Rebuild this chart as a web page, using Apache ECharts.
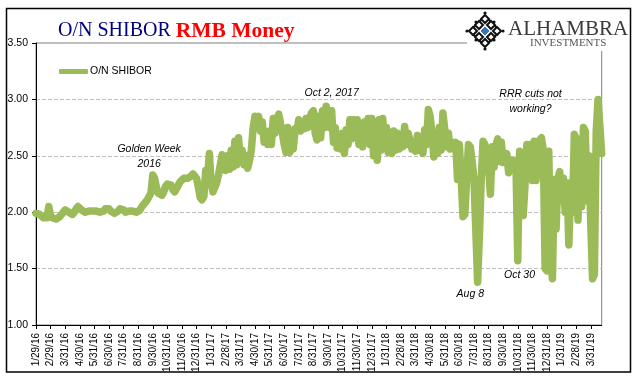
<!DOCTYPE html>
<html>
<head>
<meta charset="utf-8">
<style>
  html, body { margin: 0; padding: 0; background: #fff; }
  #chart { width: 641px; height: 381px; }
</style>
<script src="https://cdn.jsdelivr.net/npm/echarts@6/dist/echarts.min.js"></script>
</head>
<body>
<div id="chart"></div>
<script>
const tickLabels = [
  '1/29/16', '2/29/16', '3/31/16', '4/30/16', '5/31/16', '6/30/16', '7/31/16', '8/31/16', '9/30/16', '10/31/16',
  '11/30/16', '12/31/16', '1/31/17', '2/28/17', '3/31/17', '4/30/17', '5/31/17', '6/30/17', '7/31/17', '8/31/17',
  '9/30/17', '10/31/17', '11/30/17', '12/31/17', '1/31/18', '2/28/18', '3/31/18', '4/30/18', '5/31/18', '6/30/18',
  '7/31/18', '8/31/18', '9/30/18', '10/31/18', '11/30/18', '12/31/18', '1/31/19', '2/28/19', '3/31/19'
];
const pointsPerTick = 8;

// eight readings for each tick interval
const shibor = [
  1.99, 1.99, 1.98, 1.97, 1.95, 1.94, 1.95, 2.05,
  1.97, 1.95, 1.94, 1.94, 1.95, 1.96, 1.97, 2.00,
  2.02, 2.02, 2.00, 1.99, 1.98, 2.00, 2.03, 2.05,
  2.04, 2.02, 2.01, 2.00, 2.00, 2.01, 2.01, 2.01,
  2.00, 2.01, 2.01, 2.00, 2.00, 2.01, 2.03, 2.04,
  2.03, 2.01, 2.00, 1.99, 1.99, 2.01, 2.03, 2.04,
  2.02, 2.00, 2.00, 2.01, 2.02, 2.01, 2.00, 2.00,
  2.00, 2.02, 2.05, 2.07, 2.09, 2.11, 2.14, 2.17,
  2.33, 2.30, 2.22, 2.17, 2.16, 2.15, 2.18, 2.23,
  2.25, 2.25, 2.24, 2.20, 2.18, 2.19, 2.24, 2.27,
  2.28, 2.30, 2.31, 2.30, 2.31, 2.32, 2.34, 2.34,
  2.30, 2.22, 2.13, 2.11, 2.14, 2.37, 2.30, 2.52,
  2.25, 2.18, 2.22, 2.26, 2.33, 2.42, 2.51, 2.48,
  2.37, 2.50, 2.38, 2.55, 2.40, 2.63, 2.42, 2.66,
  2.45, 2.55, 2.42, 2.50, 2.39, 2.46, 2.55, 2.75,
  2.85, 2.78, 2.85, 2.72, 2.80, 2.62, 2.70, 2.60,
  2.72, 2.60, 2.83, 2.70, 2.82, 2.87, 2.88, 2.70,
  2.60, 2.53, 2.75, 2.53, 2.70, 2.56, 2.74, 2.72,
  2.82, 2.72, 2.80, 2.74, 2.83, 2.75, 2.84, 2.88,
  2.90, 2.70, 2.64, 2.85, 2.66, 2.90, 2.75, 2.94,
  2.94, 2.75, 2.90, 2.62, 2.75, 2.57, 2.68, 2.56,
  2.70, 2.52, 2.73, 2.60, 2.82, 2.65, 2.82, 2.68,
  2.82, 2.60, 2.75, 2.58, 2.80, 2.62, 2.83, 2.60,
  2.83, 2.50, 2.70, 2.46, 2.82, 2.55, 2.83, 2.60,
  2.75, 2.53, 2.60, 2.52, 2.72, 2.55, 2.70, 2.56,
  2.68, 2.58, 2.76, 2.60, 2.70, 2.63, 2.56, 2.62,
  2.54, 2.68, 2.55, 2.60, 2.52, 2.73, 2.60, 2.91,
  2.85, 2.70, 2.49, 2.65, 2.52, 2.75, 2.55, 2.88,
  2.88, 2.58, 2.70, 2.56, 2.62, 2.56, 2.62, 2.29,
  2.60, 2.30, 1.96, 1.98, 2.30, 2.60, 2.58, 2.45,
  2.30, 1.85, 1.38, 1.80, 2.30, 2.63, 2.60, 2.45,
  2.40, 2.16, 2.58, 2.40, 2.59, 2.65, 2.45, 2.62,
  2.44, 2.46, 2.52, 2.35, 2.46, 2.40, 2.46, 2.44,
  1.57, 2.54, 2.30, 1.97, 2.25, 2.60, 2.30, 2.60,
  2.28, 2.63, 2.28, 2.60, 2.64, 2.66, 2.55, 1.50,
  1.48, 2.54, 1.60, 1.41, 2.29, 1.85, 2.30, 2.36,
  2.10, 2.30, 2.00, 2.26, 1.71, 2.26, 2.00, 2.69,
  2.65, 1.93, 2.65, 2.05, 2.75, 2.72, 2.10, 2.50,
  1.90, 1.41, 1.45, 2.72, 3.00, 3.01, 2.52
];

const categories = shibor.map((v, i) => (i % pointsPerTick === 0 ? tickLabels[i / pointsPerTick] : ''));
const isTick = i => i % pointsPerTick === 0;

const notes = [
  { text: 'Golden Week\n2016', at: [62, 2.49] },
  { text: 'Oct 2, 2017', at: [162, 3.06] },
  { text: 'RRR cuts not\nworking?', at: [271, 2.985] },
  { text: 'Oct 30', at: [265, 1.44] },
  { text: 'Aug 8', at: [238, 1.275] }
];

const green = '#9BBB59';
const fontSans = '"Liberation Sans", Arial, sans-serif';
const fontSerif = '"Liberation Serif", "Times New Roman", serif';

// logo mark, small diamonds on a rotated lattice
function diamond(cx, cy, r, fill, stroke, lineWidth) {
  return {
    type: 'polygon',
    z: 20,
    shape: { points: [[cx, cy - r], [cx + r, cy], [cx, cy + r], [cx - r, cy]] },
    style: { fill: fill, stroke: stroke, lineWidth: lineWidth }
  };
}
const logoX = 485, logoY = 31, step = 6;
const logoMark = [diamond(logoX, logoY, 15, '#fff', '#111', 2)];
for (let a = -1; a <= 1; a++) {
  for (let b = -1; b <= 1; b++) {
    const cx = logoX + (a - b) * step;
    const cy = logoY + (a + b) * step;
    if (a === 0 && b === 0) continue;
    logoMark.push(diamond(cx, cy, 4, '#fff', '#111', 2));
    logoMark.push({
      type: 'circle', z: 20,
      shape: { cx: logoX + (a - b) * step * 1.5, cy: logoY + (a + b) * step * 1.5, r: 1.6 },
      style: { fill: '#111' }
    });
  }
}
logoMark.push(diamond(logoX, logoY, 5, '#3B72B8', '#fff', 1));

const chart = echarts.init(document.getElementById('chart'));
chart.setOption({
  animation: false,
  backgroundColor: '#fff',
  title: {
    text: '{a|O/N SHIBOR} {b|RMB Money}',
    left: 53,
    top: 15,
    textStyle: {
      rich: {
        a: { fontFamily: fontSerif, fontSize: 20, fontWeight: 'normal', color: '#000080' },
        b: { fontFamily: fontSerif, fontSize: 21.5, fontWeight: 'bold', color: '#FF0000' }
      }
    }
  },
  legend: {
    left: 59,
    top: 66,
    padding: 0,
    itemGap: 0,
    itemWidth: 29,
    itemHeight: 5,
    icon: 'roundRect',
    data: ['O/N SHIBOR'],
    selectedMode: false,
    textStyle: { fontFamily: fontSans, fontSize: 10.5, color: '#000', padding: [0, 0, 0, -3] }
  },
  grid: {
    left: 36, top: 43, width: 565.7, height: 282,
    show: true, borderColor: '#808080', borderWidth: 1, backgroundColor: '#fff'
  },
  xAxis: {
    type: 'category',
    boundaryGap: false,
    data: categories,
    axisLine: { lineStyle: { color: '#000', width: 1 } },
    axisTick: { interval: isTick, length: 4, lineStyle: { color: '#000' } },
    axisLabel: {
      interval: isTick,
      rotate: 90,
      margin: 8,
      fontFamily: fontSans,
      fontSize: 10,
      color: '#000'
    },
    splitLine: { show: false }
  },
  yAxis: {
    type: 'value',
    min: 1,
    max: 3.5,
    interval: 0.5,
    axisLine: { show: true, lineStyle: { color: '#000', width: 1 } },
    axisTick: { show: true, length: 4, lineStyle: { color: '#000' } },
    axisLabel: {
      margin: 8,
      fontFamily: fontSans,
      fontSize: 10.5,
      color: '#000',
      formatter: v => v.toFixed(2)
    },
    splitLine: { show: true, lineStyle: { color: '#BFBFBF', type: 'dashed', width: 1 } }
  },
  series: [{
    name: 'O/N SHIBOR',
    type: 'line',
    data: shibor,
    showSymbol: false,
    smooth: false,
    lineStyle: { color: green, width: 7.5, join: 'round', cap: 'round' },
    itemStyle: { color: green },
    markPoint: {
      symbol: 'circle',
      symbolSize: 0,
      silent: true,
      label: {
        show: true,
        position: 'inside',
        formatter: p => p.name,
        fontFamily: fontSans,
        fontStyle: 'italic',
        fontSize: 10.5,
        lineHeight: 15,
        color: '#000'
      },
      data: notes.map(n => ({ name: n.text, coord: n.at }))
    }
  }],
  graphic: [
    { type: 'rect', z: 10, shape: { x: 467, y: 10, width: 163, height: 41 }, style: { fill: '#fff' } },
    { type: 'rect', z: 30, shape: { x: 6.5, y: 8.5, width: 624, height: 363.5 }, style: { fill: 'none', stroke: '#000', lineWidth: 1.5 } },
    ...logoMark,
    { type: 'text', z: 20, left: 508, top: 19, style: { text: 'ALHAMBRA', fontFamily: fontSerif, fontSize: 21, fill: '#3A3A3A' } },
    { type: 'text', z: 20, left: 530, top: 38, style: { text: 'INVESTMENTS', fontFamily: fontSerif, fontSize: 11, fill: '#555' } }
  ]
});
</script>
</body>
</html>
